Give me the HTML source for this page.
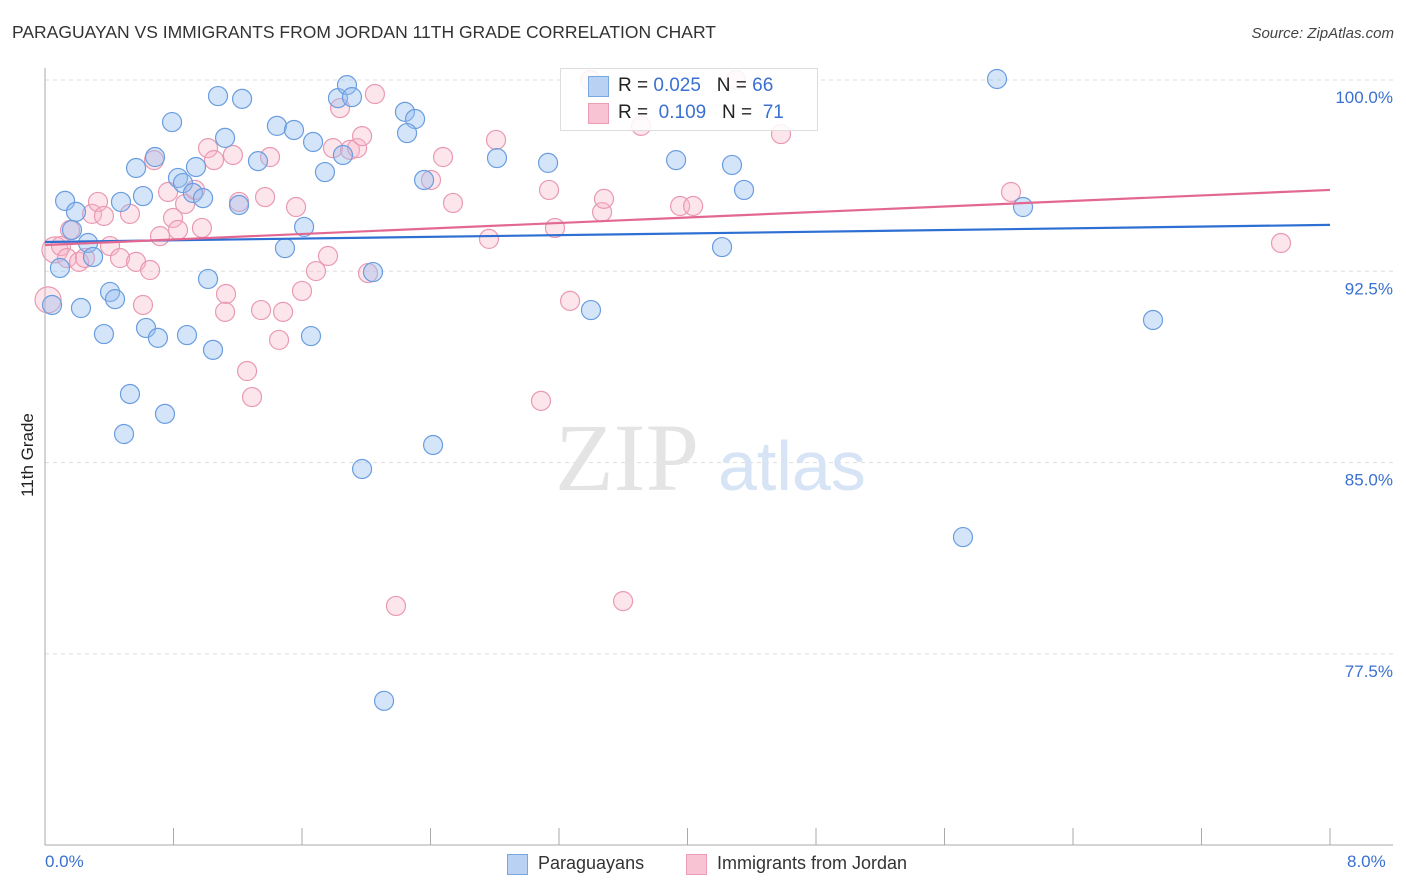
<!DOCTYPE html>
<html><head><meta charset="utf-8"><style>
body{margin:0;background:#fff;font-family:"Liberation Sans",sans-serif;}
#wrap{position:relative;width:1406px;height:892px;overflow:hidden;}
.t{position:absolute;white-space:nowrap;}
</style></head><body>
<div id="wrap">
<div class="t" style="left:12px;top:22px;font-size:17.5px;color:#333;">PARAGUAYAN VS IMMIGRANTS FROM JORDAN 11TH GRADE CORRELATION CHART</div>
<div class="t" style="right:12px;top:25px;font-size:15px;color:#444;font-style:italic;">Source: ZipAtlas.com</div>
<div class="t" style="left:-20px;top:445px;font-size:17px;color:#222;transform:rotate(-90deg);width:96px;text-align:center;">11th Grade</div>
<svg id="svg" width="1406" height="892" style="position:absolute;left:0;top:0"></svg>
</div>
<script>
const blueX=[0.125,0.193,0.168,0.268,0.299,0.093,0.044,0.224,0.405,0.436,0.367,0.629,0.703,0.884,1.046,0.529,0.747,0.492,0.567,0.685,0.791,0.610,0.473,0.828,0.859,0.940,0.921,0.984,1.077,1.227,1.121,1.208,1.326,1.444,1.550,1.669,1.743,1.613,1.494,1.015,1.656,1.824,1.880,1.911,1.855,2.042,2.241,2.304,2.254,2.360,2.814,3.132,3.929,4.277,4.352,4.215,3.399,2.416,1.974,2.111,5.927,6.089,6.898,5.715];
const blueY=[95.26,94.83,94.12,93.61,93.06,92.63,91.18,91.06,91.69,91.41,90.04,90.28,89.89,90.00,89.42,87.69,86.91,86.12,96.55,96.98,98.35,95.45,95.22,96.16,95.96,96.59,95.57,95.37,99.37,99.26,97.73,95.10,96.82,98.20,98.04,97.57,96.39,94.24,93.41,92.20,89.96,99.29,99.80,99.33,97.06,92.47,98.75,98.47,97.92,96.08,96.94,96.75,96.86,96.67,95.69,93.45,90.98,85.69,84.75,75.66,100.04,95.02,90.59,82.08];
const pinkX=[0.062,0.019,0.100,0.137,0.156,0.212,0.249,0.293,0.330,0.367,0.405,0.467,0.529,0.567,0.654,0.610,0.679,0.716,0.766,0.797,0.828,0.872,0.934,0.977,1.015,1.052,1.127,1.121,1.170,1.208,1.258,1.289,1.345,1.370,1.401,1.457,1.482,1.563,1.600,1.687,1.762,1.793,1.837,1.899,1.943,1.974,2.054,2.011,2.185,2.403,2.478,2.540,2.764,2.808,3.088,3.138,3.175,3.269,3.468,3.480,3.599,3.711,3.954,4.035,4.302,4.582,6.014,7.695,3.394];
const pinkY=[93.34,91.38,93.49,93.02,94.12,92.87,93.02,94.75,95.22,94.67,93.49,93.02,94.75,92.87,92.55,91.18,96.86,93.88,95.61,94.59,94.12,95.14,95.69,94.20,97.33,96.86,91.61,90.91,97.06,95.22,88.59,87.57,90.98,95.41,96.98,89.81,90.91,95.02,91.73,92.51,93.10,97.33,98.90,97.26,97.33,97.80,99.45,92.43,79.38,96.08,96.98,95.18,93.77,97.65,87.42,95.69,94.20,91.34,94.82,95.34,79.57,98.20,95.06,95.06,100.00,97.88,95.61,93.61,100.00];
const blueLine=[93.65,94.32];
const pinkLine=[93.53,95.69];
const yTicks=[100,92.5,85,77.5];
const yTickLabels=["100.0%","92.5%","85.0%","77.5%"];
const NS="http://www.w3.org/2000/svg";
const svg=document.getElementById('svg');
const X=v=>45+v/8*1285;
const Y=v=>80+(100-v)/7.5*191.3;
function mk(tag,attrs,parent){const e=document.createElementNS(NS,tag);for(const k in attrs)e.setAttribute(k,attrs[k]);(parent||svg).appendChild(e);return e;}
// gridlines
yTicks.forEach((t,i)=>{
 const g=mk('line',{x1:45,x2:1393,y1:Y(t),y2:Y(t),stroke:'#ddd','stroke-dasharray':'4,4'});
 
 
 const tx=mk('text',{x:1393,y:Y(t)+23,'text-anchor':'end','font-size':'17',fill:'#3a70d0','font-family':'Liberation Sans'});
 tx.textContent=yTickLabels[i];
 
 
});
// axes
const ax=mk('line',{x1:45,x2:45,y1:68,y2:845,stroke:'#aaa'});


const bx=mk('line',{x1:45,x2:1393,y1:845,y2:845,stroke:'#aaa'});


for(let i=0;i<=10;i++){const tk=mk('line',{x1:X(i*0.8),x2:X(i*0.8),y1:828,y2:845,stroke:'#aaa'});
 
 }
// watermark
const wm=mk('text',{x:555,y:490,'font-size':'96','font-family':'Liberation Serif',fill:'#e4e4e4'});wm.textContent='ZIP';


const wm2=mk('text',{x:718,y:490,'font-size':'70','font-family':'Liberation Sans',fill:'#d6e4f6'});wm2.textContent='atlas';


// points
function pts(xs,ys,fill,stroke,name){xs.forEach((x,i)=>{const r=(x<0.07)?(i<2&&name==='pink'?13:9.5):9.5;
 const c=mk('circle',{cx:X(x),cy:Y(ys[i]),r:r,fill:fill,stroke:stroke,'stroke-width':1.2});
 
 });}
pts(pinkX,pinkY,'rgba(248,180,200,0.35)','#e99ab3','pink');
pts(blueX,blueY,'rgba(150,190,240,0.4)','#6a9de0','blue');
const bl=mk('line',{x1:X(0),x2:X(8),y1:Y(blueLine[0]),y2:Y(blueLine[1]),stroke:'#2d6fd2','stroke-width':2.2});


const pl=mk('line',{x1:X(0),x2:X(8),y1:Y(pinkLine[0]),y2:Y(pinkLine[1]),stroke:'#e26892','stroke-width':2.2});


</script>
<div class="t" style="left:45px;top:852px;font-size:17px;color:#3a70d0;">0.0%</div>
<div class="t" style="left:1347px;top:852px;font-size:17px;color:#3a70d0;">8.0%</div>
<div style="position:absolute;left:560px;top:68px;width:256px;height:61px;border:1px solid #ddd;background:rgba(255,255,255,0.85);font-size:19px;">
 <div style="position:absolute;left:27px;top:7px;width:19px;height:19px;background:#b9d2f4;border:1px solid #7aa7e4;"></div>
 <div class="t" style="left:57px;top:6px;color:#222;">R = <span style="color:#3a70d0">0.025</span>&nbsp;&nbsp;&nbsp;N = <span style="color:#3a70d0">66</span></div>
 <div style="position:absolute;left:27px;top:34px;width:19px;height:19px;background:#f8c4d4;border:1px solid #eb9db5;"></div>
 <div class="t" style="left:57px;top:33px;color:#222;">R = &nbsp;<span style="color:#3a70d0">0.109</span>&nbsp;&nbsp;&nbsp;N = &nbsp;<span style="color:#3a70d0">71</span></div>
</div>
<div style="position:absolute;left:507px;top:854px;">
 <div style="position:absolute;left:0;top:0;width:19px;height:19px;background:#b9d2f4;border:1px solid #7aa7e4;"></div>
 <div class="t" style="left:31px;top:-1px;font-size:18px;color:#333;">Paraguayans</div>
</div>
<div style="position:absolute;left:686px;top:854px;">
 <div style="position:absolute;left:0;top:0;width:19px;height:19px;background:#f8c4d4;border:1px solid #eb9db5;"></div>
 <div class="t" style="left:31px;top:-1px;font-size:18px;color:#333;">Immigrants from Jordan</div>
</div>
</body></html>
